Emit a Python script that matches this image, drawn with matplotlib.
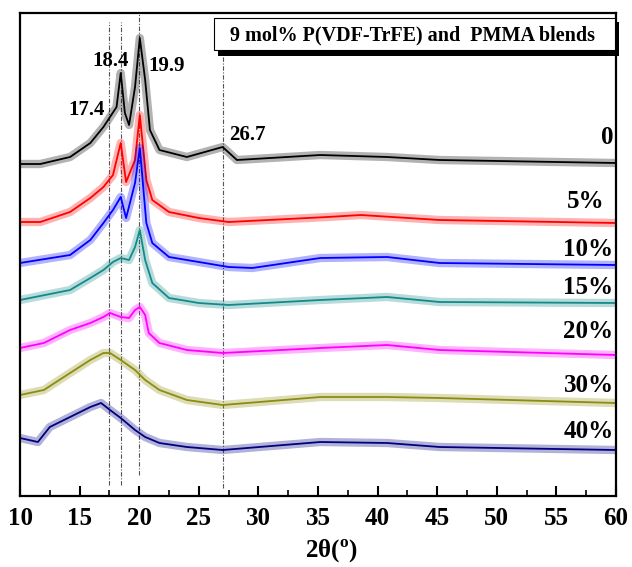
import matplotlib
matplotlib.use("Agg")
import matplotlib.pyplot as plt
from matplotlib.patches import Rectangle
from matplotlib.ticker import MultipleLocator

plt.rcParams["font.family"] = ["Liberation Serif", "DejaVu Serif"]
plt.rcParams["font.weight"] = "bold"
plt.rcParams["mathtext.fontset"] = "custom"
plt.rcParams["mathtext.rm"] = "Liberation Serif:bold"
plt.rcParams["mathtext.bf"] = "Liberation Serif:bold"

# ── Données (intensité décalée, unités arbitraires) ──────────────────────────
x_0 = [10, 11.7, 14.2, 15.9, 17.0, 17.55, 18.1, 18.45, 18.8, 19.15, 19.65, 20.05,
       20.5, 20.9, 21.7, 24, 27, 28.2, 35.2, 40.8, 45.2, 60]
y_0 = [332, 332, 339, 353, 369, 379, 389, 423, 383, 371, 409, 458,
       416, 366, 346, 339, 349, 336, 341, 339, 336, 333]

x_5 = [10, 11.7, 14.2, 15.9, 17.0, 17.8, 18.45, 18.9, 19.65, 20.05, 20.6, 21.1,
       22.5, 25, 27.5, 35.8, 38.6, 45.2, 60]
y_5 = [274, 274, 284, 298, 309, 321, 353, 314, 336, 381, 316, 296,
       284, 278, 274, 279, 281, 276, 273]

x_10 = [10, 14.2, 15.9, 17.0, 17.8, 18.45, 18.9, 19.65, 20.05, 20.6, 21.1, 22.5,
        25, 27.5, 29.5, 35.2, 40.8, 45.2, 60]
y_10 = [233, 241, 256, 273, 286, 299, 278, 313, 348, 273, 253, 239,
        234, 229, 228, 238, 239, 233, 231]

x_15 = [10, 14.2, 15.9, 17.0, 17.8, 18.45, 19.15, 19.65, 20.05, 20.5, 21.1, 22.5,
        25, 27.5, 35.2, 40.8, 45.2, 60]
y_15 = [196, 206, 218, 226, 234, 238, 236, 249, 266, 236, 213, 198,
        193, 191, 196, 199, 194, 193]

x_20 = [10, 12, 14.2, 15.9, 17.0, 17.55, 18.45, 19.15, 19.65, 20.05, 20.5, 20.8,
        21.7, 24, 27, 35.2, 40.8, 45.2, 60]
y_20 = [148, 153, 166, 173, 179, 183, 179, 178, 186, 189, 181, 163,
        153, 146, 143, 148, 151, 146, 141]

x_30 = [10, 12, 14.2, 15.9, 17.0, 17.55, 18.45, 19.65, 20.5, 21.7, 24, 27,
        35.2, 40.8, 45.2, 60]
y_30 = [101, 106, 123, 136, 143, 143, 136, 126, 116, 106, 96, 91,
        99, 99, 98, 93]

x_40 = [10, 11.5, 12.5, 14.2, 15.9, 16.8, 17.55, 18.45, 19.65, 20.5, 21.7, 24,
        27, 35.2, 40.8, 45.2, 60]
y_40 = [58, 54, 69, 79, 89, 93, 86, 78, 66, 59, 53, 49,
        46, 54, 53, 49, 46]

series_x = [x_0, x_5, x_10, x_15, x_20, x_30, x_40]
series_y = [y_0, y_5, y_10, y_15, y_20, y_30, y_40]
series_labels = ["0", "5%", "10%", "15%", "20%", "30%", "40%"]
series_colors = ["#000000", "#ff0000", "#0000ff", "#138a8a", "#ff00ff", "#8c8c10", "#000080"]
label_x = [59.8, 59.0, 59.8, 59.8, 59.8, 59.8, 59.8]
label_y = [358, 294, 247, 209, 164, 111, 64]

# raies (positions) et étiquettes
peak_x = [17.5, 18.5, 20.0, 27.0]
peak_ymin = [11, 11, 21, 8]
peak_ymax = [474, 474, 483, 463]
peak_text = ["17.4", "18.4", "19.9", "26.7"]
peak_text_x = [15.6, 17.6, 22.3, 29.1]
peak_text_y = [386, 435, 430, 361]

TITLE = "9 mol% P(VDF-TrFE) and  PMMA blends"

# ── Figure ────────────────────────────────────────────────────────────────────
W, H = 632, 567
fig = plt.figure(figsize=(W / 100, H / 100), dpi=100)
ax = fig.add_axes([20 / W, (H - 496) / H, 596 / W, 483 / H])

for xs, ys, c in zip(series_x, series_y, series_colors):
    ax.plot(xs, ys, color=c, linewidth=6, alpha=0.3, solid_joinstyle="round")
    ax.plot(xs, ys, color=c, linewidth=1.3)

for px, y0, y1 in zip(peak_x, peak_ymin, peak_ymax):
    ax.plot([px, px], [y0, y1], color="#555555", linewidth=0.8,
            linestyle=(0, (4, 1.5, 1, 1.5)), zorder=1)

for t, tx, ty in zip(peak_text, peak_text_x, peak_text_y):
    ax.text(tx, ty, t, fontsize=15, fontweight="bold", ha="center", va="center")

for t, lx, ly in zip(series_labels, label_x, label_y):
    ax.text(lx, ly, t, fontsize=18, fontweight="bold", ha="right", va="center")

# encadré titre avec ombre
def axc(px, py):
    return (px - 20) / 596, (496 - py) / 483

sx, sy = axc(218, 56)
ax.add_patch(Rectangle((sx, sy), (619 - 218) / 596, (56 - 22) / 483,
                       transform=ax.transAxes, facecolor="black",
                       edgecolor="none", clip_on=False, zorder=5))
bx, by = axc(214, 50)
ax.add_patch(Rectangle((bx, by), (615 - 214) / 596, (50 - 18) / 483,
                       transform=ax.transAxes, facecolor="white",
                       edgecolor="black", linewidth=0.8, clip_on=False, zorder=6))
tx, ty = axc(412, 35)
ax.text(tx, ty, TITLE, transform=ax.transAxes, fontsize=14.5, fontweight="bold",
        ha="center", va="center", zorder=7)

ax.set_xlim(10, 60)
ax.set_ylim(0, 483)
ax.xaxis.set_major_locator(MultipleLocator(5))
ax.xaxis.set_minor_locator(MultipleLocator(2.5))
ax.tick_params(axis="x", which="major", direction="in", length=7, width=1.5,
               labelsize=18, pad=8)
ax.tick_params(axis="x", which="minor", direction="in", length=4, width=1.2)
ax.set_yticks([])
for sp in ax.spines.values():
    sp.set_linewidth(1.6)

ax.set_xlabel(r"2θ($^{\rm o}$)", fontsize=18, fontweight="bold")
ax.xaxis.set_label_coords((331 - 20) / 596, (496 - 538) / 483)

fig.savefig("out.png", dpi=100)
